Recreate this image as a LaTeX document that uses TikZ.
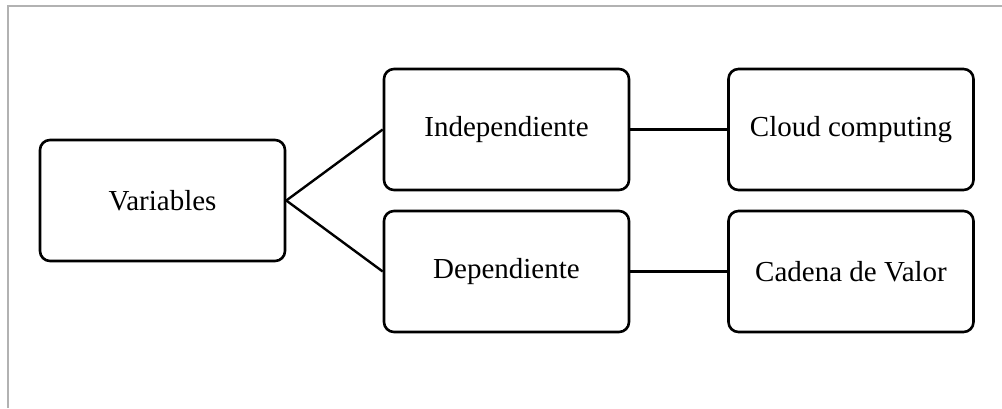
\documentclass[tikz,border=0pt]{standalone}
\usepackage{fontspec}
\setmainfont{Liberation Serif}
\tikzset{
  vbox/.style={draw=black, line width=2.6pt, rounded corners=10pt, minimum width=245pt, minimum height=121pt, inner sep=0pt, font=\fontsize{29}{34}\selectfont},
  link/.style={draw=black, line width=2.4pt},
  frameline/.style={draw=black!30, line width=2pt}
}
\begin{document}
\begin{tikzpicture}[x=1pt, y=-1pt]
\useasboundingbox (0,0) rectangle (1002,408);
\draw[frameline] (8,408) -- (8,6) -- (1002,6);
\node[vbox] (var) at (162.5,200.5) {Variables};
\node[vbox] (ind) at (506.5,129.5) {Independiente};
\node[vbox] (dep) at (506.5,271.5) {Dependiente};
\node[vbox] (cloud) at (851,129.5) {Cloud computing};
\node[vbox] (cad) at (851,271.5) {Cadena de Valor};
\draw[link] (var.east) -- (ind.west);
\draw[link] (var.east) -- (dep.west);
\draw[link] (ind.east) -- (cloud.west);
\draw[link] (dep.east) -- (cad.west);
\end{tikzpicture}
\end{document}
